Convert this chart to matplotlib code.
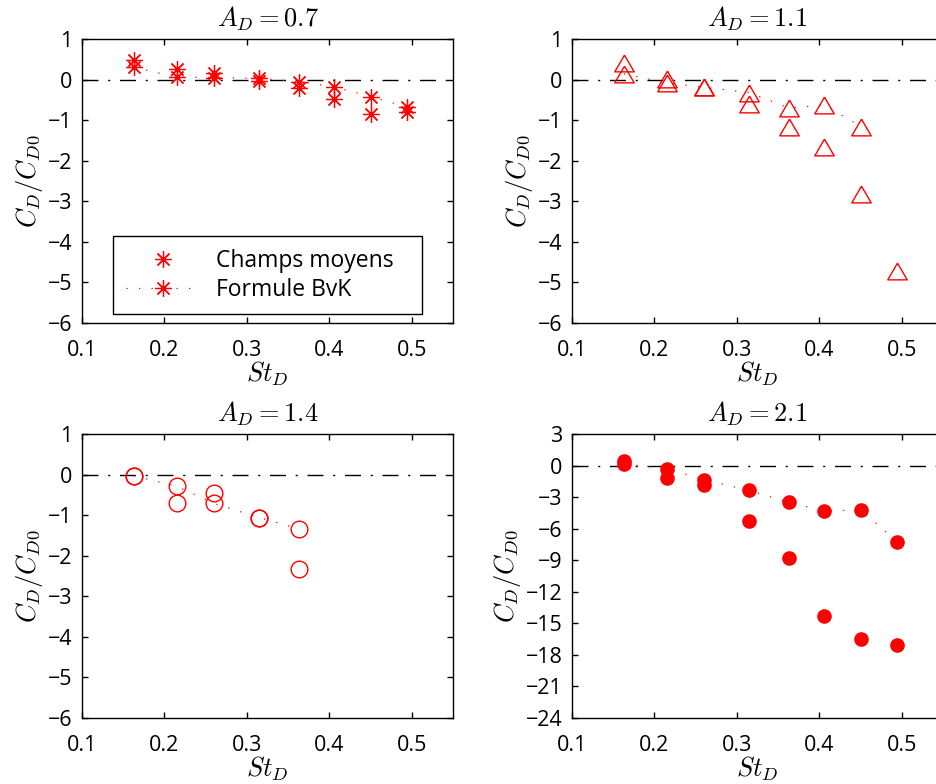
import numpy as np
import matplotlib
matplotlib.use("Agg")
import matplotlib.pyplot as plt
from matplotlib.markers import MarkerStyle

plt.rcParams['font.family'] = ['Open Sans', 'DejaVu Sans']
plt.rcParams['mathtext.fontset'] = 'cm'

# ---- data ----
st_d = [0.163, 0.215, 0.26, 0.315, 0.363, 0.406, 0.451, 0.494]
nan = np.nan

titles = ["$A_D = 0.7$", "$A_D = 1.1$", "$A_D = 1.4$", "$A_D = 2.1$"]

champs_07 = [0.49, 0.26, 0.16, -0.03, -0.20, -0.49, -0.84, -0.81]
bvk_07 = [0.30, 0.06, 0.05, 0.03, -0.05, -0.18, -0.42, -0.68]

champs_11 = [0.42, 0.02, -0.19, -0.60, -1.18, -1.67, -2.83, -4.72]
bvk_11 = [0.14, -0.08, -0.19, -0.32, -0.70, -0.63, -1.16, nan]

champs_14 = [-0.03, -0.71, -0.46, -1.06, -2.33, nan, nan, nan]
bvk_14 = [-0.03, -0.29, -0.71, -1.06, -1.34, nan, nan, nan]

champs_21 = [0.44, -1.17, -1.86, -5.30, -8.80, -14.3, -16.5, -17.1]
bvk_21 = [0.13, -0.28, -1.33, -2.37, -3.50, -4.30, -4.23, -7.23]

x_ticks = [0.1, 0.2, 0.3, 0.4, 0.5]
y_ticks_a = [1, 0, -1, -2, -3, -4, -5, -6]
y_ticks_b = [3, 0, -3, -6, -9, -12, -15, -18, -21, -24]

legend_labels = ["Champs moyens", "Formule BvK"]

# ---- styling ----
red = '#FF0000'
tri = MarkerStyle([(0, 0.86), (-1, -0.86), (1, -0.86), (0, 0.86)])
star = (8, 2, 0)
markers = [
    dict(marker=star, ms=12, mew=0.9, mec=red, mfc=red),
    dict(marker=tri, ms=14, mew=1.0, mec=red, mfc='none'),
    dict(marker='o', ms=12, mew=1.0, mec=red, mfc='none'),
    dict(marker='o', ms=9.5, mew=1.0, mec=red, mfc=red),
]
champs = [champs_07, champs_11, champs_14, champs_21]
bvk = [bvk_07, bvk_11, bvk_14, bvk_21]

W, H = 937, 784
fig = plt.figure(figsize=(W / 100, H / 100), dpi=100)

def ax_rect(left, top, right, bottom):
    return [left / W, 1 - bottom / H, (right - left) / W, (bottom - top) / H]

rects = [ax_rect(82, 39, 453, 323), ax_rect(572, 39, 943, 323),
         ax_rect(82, 434, 453, 718), ax_rect(572, 434, 943, 718)]

dotted = (0, (1, 9))
dashdot = (0, (11.5, 7, 1.5, 7))

for i in range(4):
    ax = fig.add_axes(rects[i])
    ax.axhline(0, color='k', lw=1.0, ls=dashdot, zorder=1)
    ax.plot(st_d, champs[i], ls='none', zorder=3, label=legend_labels[0], **markers[i])
    ax.plot(st_d, bvk[i], ls=dotted, lw=0.9, color=red, zorder=3,
            label=legend_labels[1], **markers[i])
    ax.set_xlim(0.1, 0.55)
    ax.set_xticks(x_ticks)
    ax.set_xticklabels([f"{v:.1f}" for v in x_ticks])
    if i == 3:
        ax.set_ylim(-24, 3)
        ax.set_yticks(y_ticks_b)
    else:
        ax.set_ylim(-6, 1)
        ax.set_yticks(y_ticks_a)
    ax.tick_params(direction='in', length=4, width=1.0, labelsize=15.5,
                   top=True, right=True)
    ax.tick_params(axis='x', pad=12)
    ax.tick_params(axis='y', pad=7)
    for s in ax.spines.values():
        s.set_linewidth(1.0)
    ax.set_title(titles[i], fontsize=19, pad=9)
    ax.set_xlabel("$St_D$", fontsize=19, labelpad=-1)
    ax.set_ylabel("$C_D/C_{D0}$", fontsize=19, labelpad=2)
    if i == 0:
        x0 = (113 - 82) / 371
        x1 = (422 - 82) / 371
        y1 = (323 - 236) / 284
        leg = ax.legend(loc='upper left', bbox_to_anchor=(x0, y1, x1 - x0, 0.0),
                        mode='expand', numpoints=1, fontsize=16.5,
                        fancybox=False, framealpha=1, edgecolor='k',
                        handlelength=3.3, handletextpad=0.65, labelspacing=0.22,
                        borderpad=0.55, borderaxespad=0)
        leg.get_frame().set_linewidth(1.0)

fig.savefig("out.png", dpi=100)
